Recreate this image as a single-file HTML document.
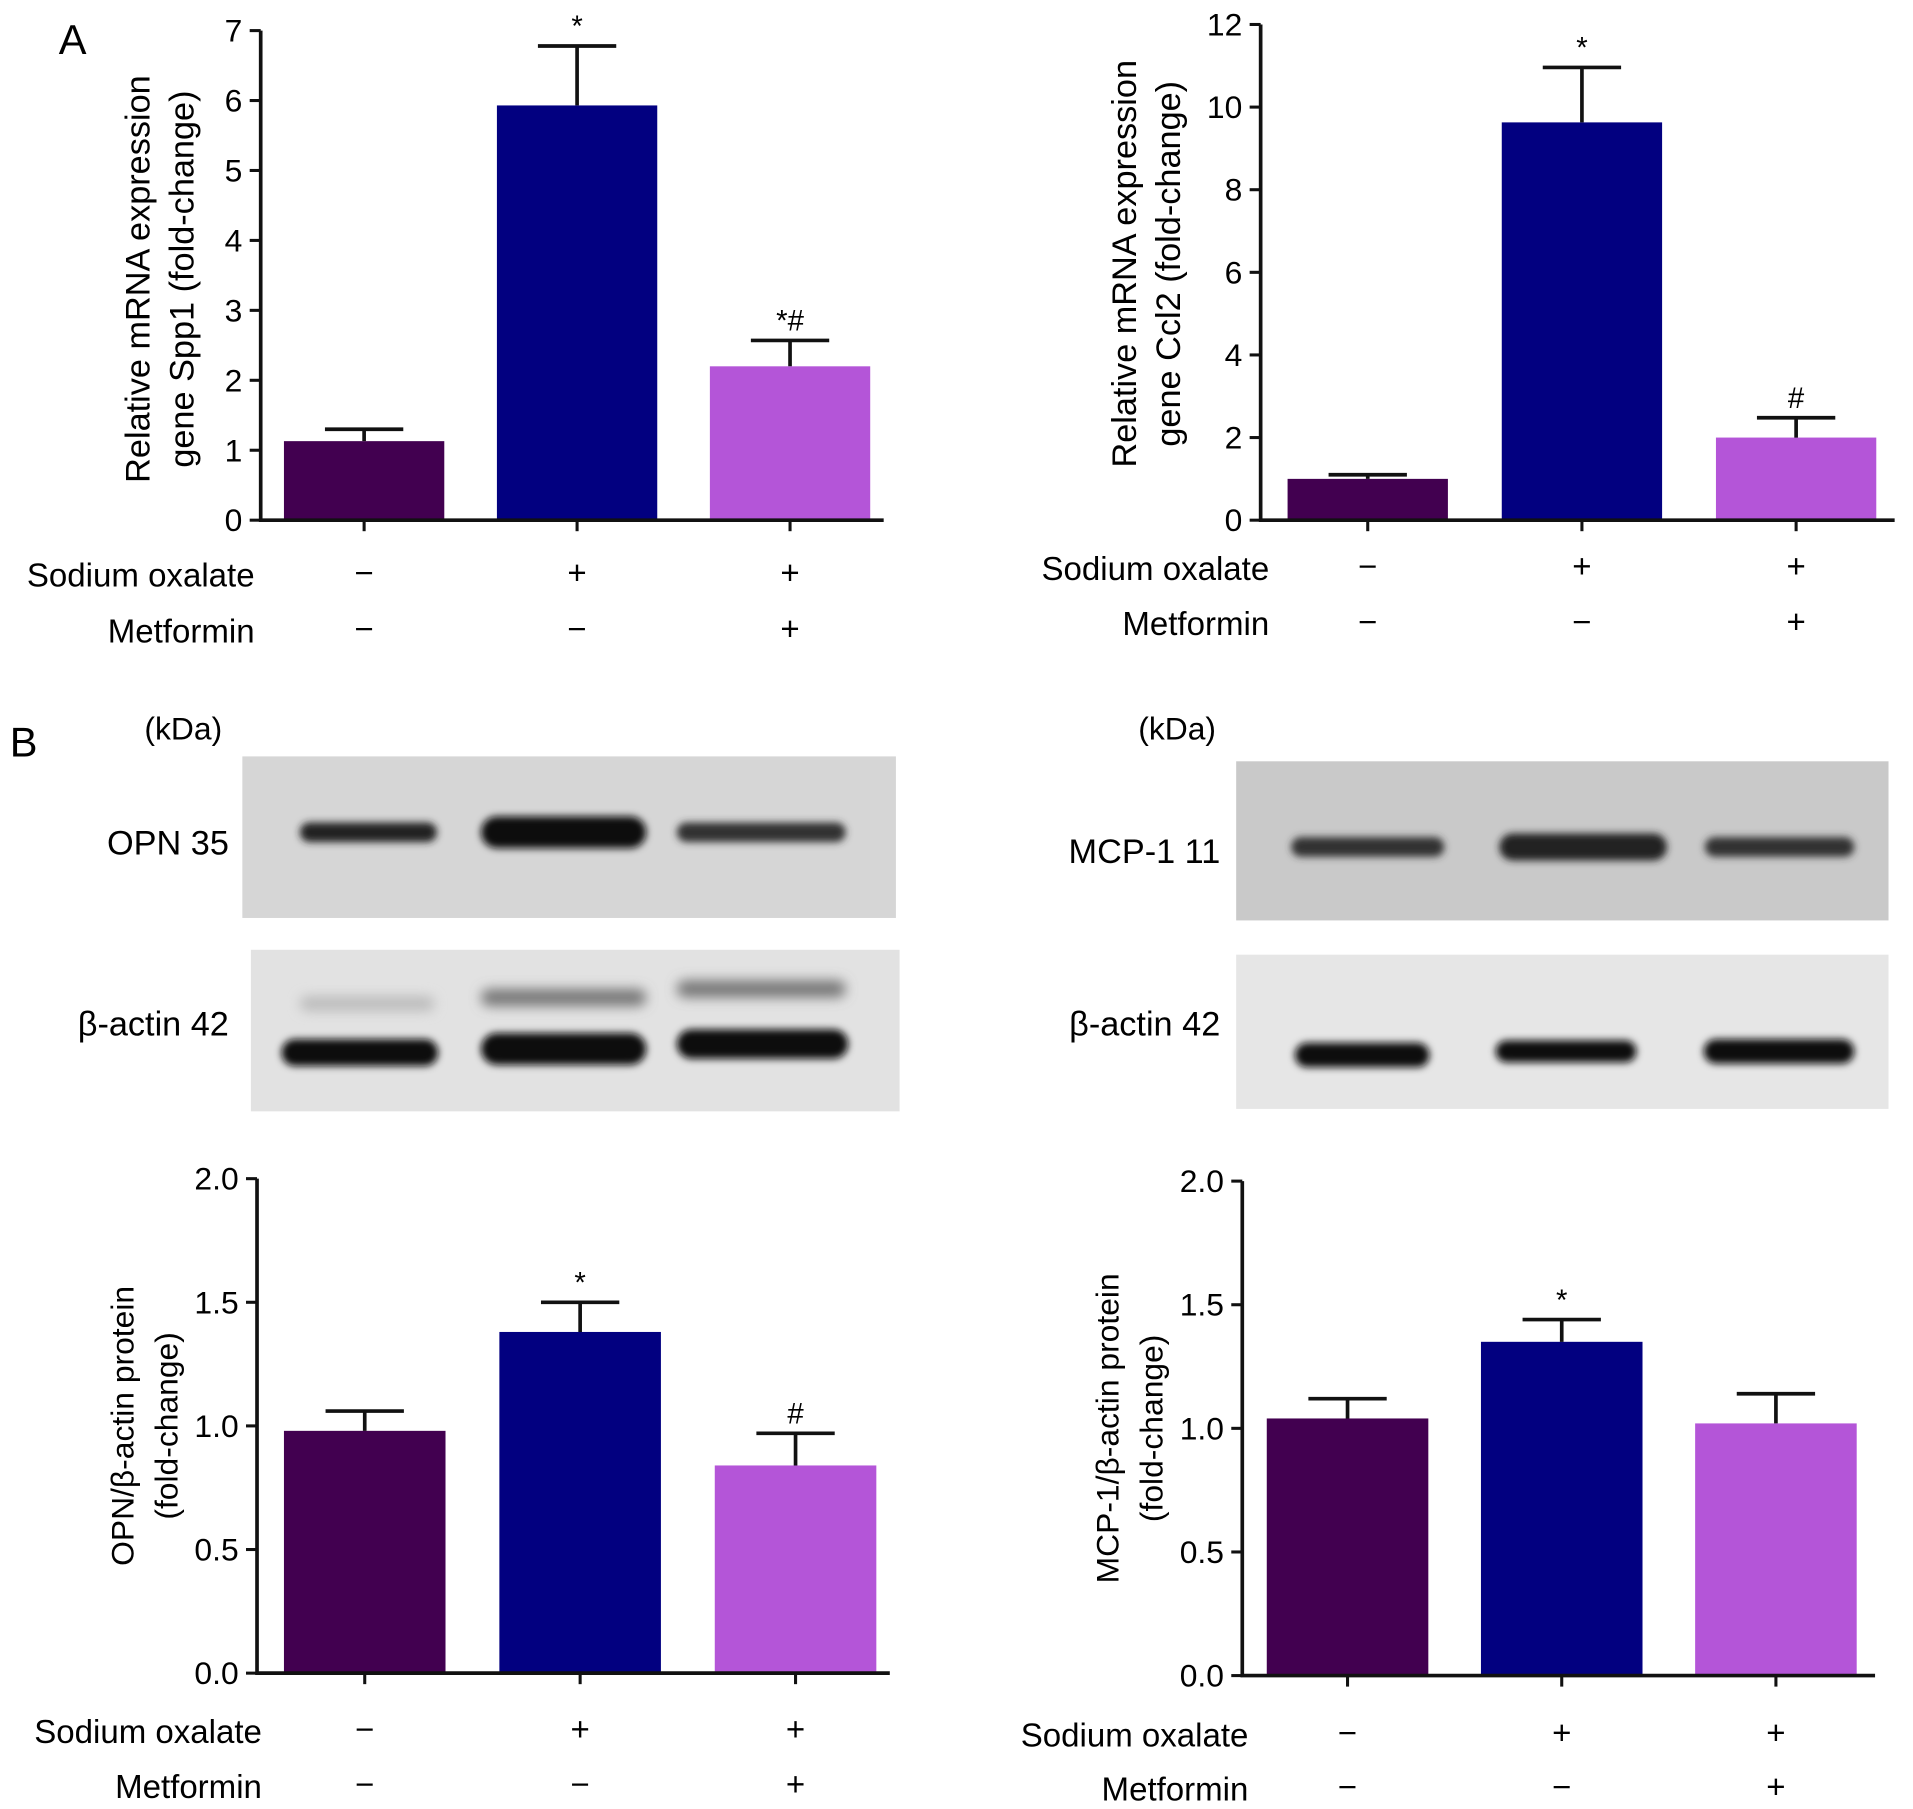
<!DOCTYPE html>
<html><head><meta charset="utf-8"><style>
html,body{margin:0;padding:0;background:#fff;}
svg{display:block;font-family:"Liberation Sans",sans-serif;}
</style></head><body>
<svg id="fig" width="1913" height="1809" viewBox="0 0 1563 1478" preserveAspectRatio="none" xmlns="http://www.w3.org/2000/svg">
<defs>
<filter id="blur" x="-20%" y="-100%" width="140%" height="300%"><feGaussianBlur stdDeviation="3"/></filter>
<filter id="blur2" x="-20%" y="-100%" width="140%" height="300%"><feGaussianBlur stdDeviation="5"/></filter>
</defs>
<text x="48" y="44" font-size="34">A</text>
<text x="8" y="618" font-size="34">B</text>
<text x="118" y="604" font-size="26">(kDa)</text>
<text x="930" y="604" font-size="26">(kDa)</text>
<g id="blots"></g>
<g id="charts"></g>
</svg>
<script>
// Chart data
const categories = ["Control", "Sodium oxalate", "Sodium oxalate + Metformin"];
const oxalateSigns = ["−", "+", "+"];
const metforminSigns = ["−", "−", "+"];
const spp1Values = [1.13, 5.93, 2.2];
const spp1Errors = [0.17, 0.85, 0.37];
const spp1Sig = ["", "*", "*#"];
const spp1Ticks = [0, 1, 2, 3, 4, 5, 6, 7];
const ccl2Values = [1.0, 9.63, 2.0];
const ccl2Errors = [0.1, 1.33, 0.48];
const ccl2Sig = ["", "*", "#"];
const ccl2Ticks = [0, 2, 4, 6, 8, 10, 12];
const opnValues = [0.98, 1.38, 0.84];
const opnErrors = [0.08, 0.12, 0.13];
const opnSig = ["", "*", "#"];
const opnTicks = ["0.0", "0.5", "1.0", "1.5", "2.0"];
const mcpValues = [1.04, 1.35, 1.02];
const mcpErrors = [0.08, 0.09, 0.12];
const mcpSig = ["", "*", ""];
const mcpTicks = ["0.0", "0.5", "1.0", "1.5", "2.0"];
const colors = ["#420050", "#020080", "#b455d8"];

const NS = "http://www.w3.org/2000/svg";
function el(tag, attrs, parent, text) {
  const e = document.createElementNS(NS, tag);
  for (const k in attrs) e.setAttribute(k, attrs[k]);
  if (text !== undefined) e.textContent = text;
  parent.appendChild(e);
  return e;
}
const charts = document.getElementById('charts');

function chart(name, cfg, values, errors, sig, ticks) {
  const g = el('g', {}, charts);
  
  
  const tickNums = ticks.map(Number);
  const ymax = tickNums[tickNums.length - 1];
  const y = v => cfg.y0 - (v / ymax) * (cfg.y0 - cfg.yTop);
  const x = i => cfg.x0 + cfg.gap + i * (cfg.bw + cfg.gap2) + cfg.bw / 2;
  values.forEach((v, i) => {
    const b = el('rect', {x: x(i) - cfg.bw / 2, y: y(v), width: cfg.bw, height: cfg.y0 - y(v), fill: colors[i]}, g);
    
    
    const top = y(v + errors[i]);
    const eb = el('path', {d: `M${x(i)} ${y(v)} V${top} M${x(i) - 32} ${top} H${x(i) + 32}`, stroke: '#111', 'stroke-width': 3, fill: 'none'}, g);
    
    
    if (sig[i]) {
      const s = el('text', {x: x(i), y: top - 8, 'font-size': 24, 'text-anchor': 'middle'}, g, sig[i]);
      
      
    }
    const t = el('line', {x1: x(i), x2: x(i), y1: cfg.y0, y2: cfg.y0 + 9, stroke: '#111', 'stroke-width': 2.5}, g);
    
    
    const o = el('text', {x: x(i), y: cfg.row1 - 2, 'font-size': 27, 'text-anchor': 'middle'}, g, oxalateSigns[i]);
    
    
    const m = el('text', {x: x(i), y: cfg.row2 - 2, 'font-size': 27, 'text-anchor': 'middle'}, g, metforminSigns[i]);
    
    
  });
  const ax = el('path', {d: `M${cfg.x0} ${cfg.yTop} V${cfg.y0} H${cfg.xEnd}`, stroke: '#111', 'stroke-width': 3, fill: 'none'}, g);
  
  
  ticks.forEach((t, i) => {
    const ty = y(tickNums[i]);
    const tl = el('line', {x1: cfg.x0 - 9, x2: cfg.x0, y1: ty, y2: ty, stroke: '#111', 'stroke-width': 2.5}, g);
    
    
    const lb = el('text', {x: cfg.x0 - 15, y: ty + 9, 'font-size': 26, 'text-anchor': 'end'}, g, String(t));
    
    
  });
  const yc = (cfg.y0 + cfg.yTop) / 2 + cfg.titleShift;
  cfg.title.forEach((line, k) => {
    const tx = cfg.titleX + k * 36;
    const tt = el('text', {x: tx, y: yc, 'font-size': cfg.titleSize, 'text-anchor': 'middle', transform: `rotate(-90 ${tx} ${yc})`}, g, line);
    
    
  });
  const r1 = el('text', {x: cfg.labelX, y: cfg.row1, 'font-size': 27, 'text-anchor': 'end'}, g, 'Sodium oxalate');
  
  
  const r2 = el('text', {x: cfg.labelX, y: cfg.row2, 'font-size': 27, 'text-anchor': 'end'}, g, 'Metformin');
  
  
}

chart('spp1-chart', {x0: 213, xEnd: 722, y0: 425, yTop: 25, bw: 131, gap: 19, gap2: 43, titleX: 122, titleShift: 3, titleSize: 28, labelX: 208, row1: 479, row2: 525, title: ['Relative mRNA expression', 'gene Spp1 (fold-change)']}, spp1Values, spp1Errors, spp1Sig, spp1Ticks);
chart('ccl2-chart', {x0: 1030, xEnd: 1548, y0: 425, yTop: 20, bw: 131, gap: 22, gap2: 44, titleX: 928, titleShift: -7, titleSize: 28, labelX: 1037, row1: 474, row2: 519, title: ['Relative mRNA expression', 'gene Ccl2 (fold-change)']}, ccl2Values, ccl2Errors, ccl2Sig, ccl2Ticks);
chart('opn-chart', {x0: 210, xEnd: 727, y0: 1367, yTop: 963, bw: 132, gap: 22, gap2: 44, titleX: 109, titleShift: 0, titleSize: 26, labelX: 214, row1: 1424, row2: 1469, title: ['OPN/β-actin protein', '(fold-change)']}, opnValues, opnErrors, opnSig, opnTicks);
chart('mcp1-chart', {x0: 1015, xEnd: 1532, y0: 1369, yTop: 965, bw: 132, gap: 20, gap2: 43, titleX: 914, titleShift: 0, titleSize: 26, labelX: 1020, row1: 1427, row2: 1471, title: ['MCP-1/β-actin protein', '(fold-change)']}, mcpValues, mcpErrors, mcpSig, mcpTicks);

const blots = document.getElementById('blots');
function blot(name, label, lx, ly, x, y, w, h, bg, bands) {
  const g = el('g', {}, blots);
  
  
  el('rect', {x: x, y: y, width: w, height: h, fill: bg}, g);
  bands.forEach(b => {
    el('rect', {x: b[0], y: b[1] - b[3] / 2, width: b[2], height: b[3], rx: b[3] / 2, fill: b[4], filter: b[5] ? 'url(#blur2)' : 'url(#blur)'}, g);
  });
  const t = el('text', {x: lx, y: ly, 'font-size': 28, 'text-anchor': 'end'}, g, label);
  
  
}
blot('opn-blot', 'OPN 35', 187, 698, 198, 618, 534, 132, '#d6d6d6', [[245,680,112,16,'#222'],[393,680,135,26,'#111'],[553,680,138,16,'#333']]);
blot('beta-actin-blot-left', 'β-actin 42', 187, 846, 205, 776, 530, 132, '#e2e2e2', [[245,820,110,12,'#bbb',1],[393,815,135,14,'#777',1],[553,808,138,14,'#777',1],[230,860,128,22,'#111'],[393,857,135,26,'#0a0a0a'],[553,853,140,24,'#0a0a0a']]);
blot('mcp1-blot', 'MCP-1 11', 997, 705, 1010, 622, 533, 130, '#c9c9c9', [[1055,692,125,16,'#333'],[1225,692,137,22,'#222'],[1393,692,122,16,'#333']]);
blot('beta-actin-blot-right', 'β-actin 42', 997, 846, 1010, 780, 533, 126, '#e6e6e6', [[1058,862,110,20,'#111'],[1222,859,115,18,'#111'],[1392,859,123,20,'#111']]);
</script>
</body></html>
